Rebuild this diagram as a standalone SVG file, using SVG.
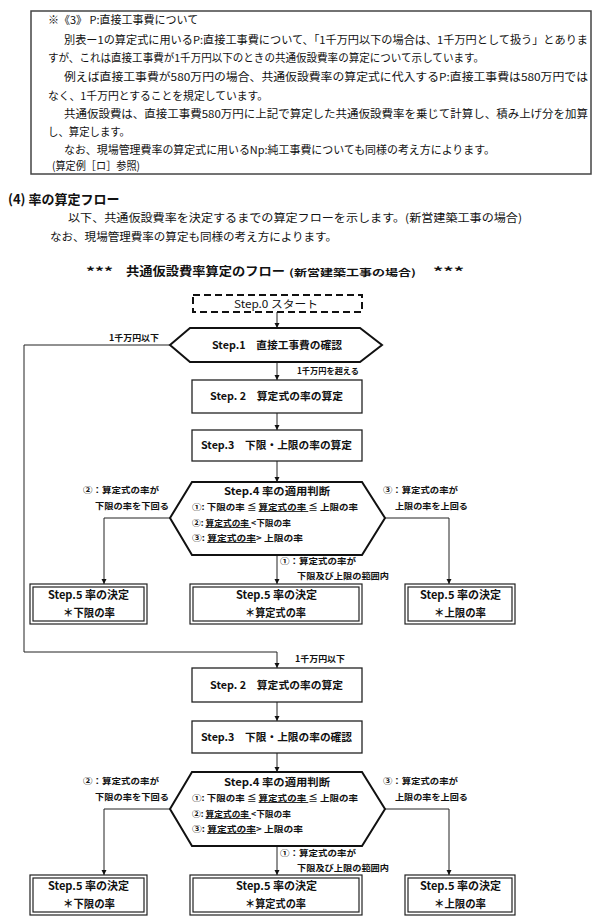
<svg xmlns="http://www.w3.org/2000/svg" width="600" height="923" viewBox="0 0 600 923">
<defs>
<marker id="ar" viewBox="0 0 10 10" refX="10" refY="5" markerWidth="5" markerHeight="7" orient="auto" markerUnits="userSpaceOnUse"><path d="M0,0 L10,5 L0,10 z" fill="#111"/></marker>
<style>
text{font-family:"Noto Sans CJK JP","Liberation Sans",sans-serif;fill:#111}
.p{font-size:11px}
.h{font-size:13px;font-weight:bold}
.b{font-size:10.5px;font-weight:bold}
.s{font-size:8.5px;font-weight:bold}
.m{font-size:11px;font-weight:bold}
.box{fill:#fff;stroke:#222;stroke-width:1.3}
.hex{fill:#fff;stroke:#111;stroke-width:2}
.dbl{fill:none;stroke:#222;stroke-width:1.2}
.ln{fill:none;stroke:#222;stroke-width:1}
</style>
</defs>
<rect width="600" height="923" fill="#fff"/>
<g id="note">
<rect x="31" y="11" width="560" height="163" fill="none" stroke="#444" stroke-width="1.5"/>
<text class="p" x="48" y="24" font-size="12">※《3》 P:直接工事費について</text>
<text class="p" x="64" y="44" textLength="524" lengthAdjust="spacingAndGlyphs">別表ー1の算定式に用いるP:直接工事費について、「1千万円以下の場合は、1千万円として扱う」とありま</text>
<text class="p" x="48" y="62" textLength="436" lengthAdjust="spacingAndGlyphs">すが、これは直接工事費が1千万円以下のときの共通仮設費率の算定について示しています。</text>
<text class="p" x="64" y="81" textLength="524" lengthAdjust="spacingAndGlyphs">例えば直接工事費が580万円の場合、共通仮設費率の算定式に代入するP:直接工事費は580万円では</text>
<text class="p" x="48" y="100" textLength="220" lengthAdjust="spacingAndGlyphs">なく、1千万円とすることを規定しています。</text>
<text class="p" x="64" y="118" textLength="524" lengthAdjust="spacingAndGlyphs">共通仮設費は、直接工事費580万円に上記で算定した共通仮設費率を乗じて計算し、積み上げ分を加算</text>
<text class="p" x="48" y="136" textLength="82" lengthAdjust="spacingAndGlyphs">し、算定します。</text>
<text class="p" x="64" y="154" textLength="431" lengthAdjust="spacingAndGlyphs">なお、現場管理費率の算定式に用いるNp:純工事費についても同様の考え方によります。</text>
<text class="p" x="52" y="170" textLength="88" lengthAdjust="spacingAndGlyphs">(算定例［ロ］参照)</text>
</g>
<g id="heading">
<text class="h" x="8" y="204">(4) 率の算定フロー</text>
<text class="p" x="68" y="222" textLength="454" lengthAdjust="spacingAndGlyphs">以下、共通仮設費率を決定するまでの算定フローを示します。(新営建築工事の場合)</text>
<text class="p" x="50" y="241" textLength="287" lengthAdjust="spacingAndGlyphs">なお、現場管理費率の算定も同様の考え方によります。</text>
<text x="86" y="276" font-size="12" font-weight="bold" textLength="27" lengthAdjust="spacingAndGlyphs">***</text>
<text x="126" y="276" font-size="12" font-weight="bold" textLength="159" lengthAdjust="spacingAndGlyphs">共通仮設費率算定のフロー</text>
<text x="289" y="276" font-size="9.5" font-weight="bold" textLength="127" lengthAdjust="spacingAndGlyphs">(新営建築工事の場合)</text>
<text x="433" y="276" font-size="12" font-weight="bold" textLength="31" lengthAdjust="spacingAndGlyphs">***</text>
</g>
<g id="connectors">
<line class="ln" x1="277" y1="312" x2="277" y2="328" marker-end="url(#ar)"/>
<line class="ln" x1="277" y1="362" x2="277" y2="380" marker-end="url(#ar)"/>
<line class="ln" x1="277" y1="413" x2="277" y2="430" marker-end="url(#ar)"/>
<line class="ln" x1="277" y1="461" x2="277" y2="482" marker-end="url(#ar)"/>
<polyline class="ln" points="170,345 24,345 24,652 277,652 277,668" marker-end="url(#ar)"/>
<polyline class="ln" points="170,518 104,518 104,584" marker-end="url(#ar)"/>
<polyline class="ln" points="385,518 449,518 449,584" marker-end="url(#ar)"/>
<line class="ln" x1="277" y1="555" x2="277" y2="584" marker-end="url(#ar)"/>
<line class="ln" x1="277" y1="702" x2="277" y2="721" marker-end="url(#ar)"/>
<line class="ln" x1="277" y1="753" x2="277" y2="772" marker-end="url(#ar)"/>
<polyline class="ln" points="170,809 104,809 104,875" marker-end="url(#ar)"/>
<polyline class="ln" points="385,809 449,809 449,875" marker-end="url(#ar)"/>
<line class="ln" x1="277" y1="846" x2="277" y2="875" marker-end="url(#ar)"/>
<text class="s" x="109" y="341" textLength="50" lengthAdjust="spacingAndGlyphs">1千万円以下</text>
<text class="s" x="297" y="374" textLength="62" lengthAdjust="spacingAndGlyphs">1千万円を超える</text>
<text class="s" x="83" y="493" textLength="76" lengthAdjust="spacingAndGlyphs">②：算定式の率が</text>
<text class="s" x="95" y="509" textLength="74" lengthAdjust="spacingAndGlyphs">下限の率を下回る</text>
<text class="s" x="383" y="493" textLength="75" lengthAdjust="spacingAndGlyphs">③：算定式の率が</text>
<text class="s" x="395" y="509" textLength="73" lengthAdjust="spacingAndGlyphs">上限の率を上回る</text>
<text class="s" x="280" y="564" textLength="76" lengthAdjust="spacingAndGlyphs">①：算定式の率が</text>
<text class="s" x="297" y="579" textLength="92" lengthAdjust="spacingAndGlyphs">下限及び上限の範囲内</text>
<text class="s" x="295" y="662" textLength="50" lengthAdjust="spacingAndGlyphs">1千万円以下</text>
<text class="s" x="83" y="784" textLength="76" lengthAdjust="spacingAndGlyphs">②：算定式の率が</text>
<text class="s" x="95" y="800" textLength="74" lengthAdjust="spacingAndGlyphs">下限の率を下回る</text>
<text class="s" x="383" y="784" textLength="75" lengthAdjust="spacingAndGlyphs">③：算定式の率が</text>
<text class="s" x="395" y="800" textLength="73" lengthAdjust="spacingAndGlyphs">上限の率を上回る</text>
<text class="s" x="280" y="856" textLength="76" lengthAdjust="spacingAndGlyphs">①：算定式の率が</text>
<text class="s" x="297" y="871" textLength="92" lengthAdjust="spacingAndGlyphs">下限及び上限の範囲内</text>
</g>
<g id="step0">
<rect x="193" y="295" width="169" height="17" fill="#fff" stroke="#111" stroke-width="2" stroke-dasharray="7,4"/>
<text x="234" y="307.5" font-size="10.5" textLength="84" lengthAdjust="spacingAndGlyphs">Step.0 スタート</text>
</g>
<g id="step1">
<polygon class="hex" points="170,345 190,328 360,328 382,345 360,362 190,362"/>
<text class="b" x="212" y="349" textLength="130" lengthAdjust="spacingAndGlyphs">Step.1　直接工事費の確認</text>
</g>
<g id="step2a">
<rect class="box" x="192" y="380" width="170" height="33"/>
<text class="b" x="210" y="400" textLength="133" lengthAdjust="spacingAndGlyphs">Step. 2　算定式の率の算定</text>
</g>
<g id="step3a">
<rect class="box" x="192" y="430" width="170" height="31"/>
<text class="b" x="201" y="449" textLength="151" lengthAdjust="spacingAndGlyphs">Step.3　下限・上限の率の算定</text>
</g>
<g id="step4a">
<polygon class="hex" points="170,518 192,482 362,482 385,518 362,555 192,555"/>
<text class="b" x="224" y="495" textLength="106" lengthAdjust="spacingAndGlyphs">Step.4 率の適用判断</text>
<text class="s" x="192" y="510" textLength="166" lengthAdjust="spacingAndGlyphs">①: 下限の率 ≦ <tspan text-decoration="underline">算定式の率 </tspan>≦ 上限の率</text>
<text class="s" x="192" y="526" textLength="99" lengthAdjust="spacingAndGlyphs">②: <tspan text-decoration="underline">算定式の率 </tspan>&lt;下限の率</text>
<text class="s" x="192" y="541" textLength="111" lengthAdjust="spacingAndGlyphs">③: <tspan text-decoration="underline">算定式の率</tspan>&gt; 上限の率</text>
</g>
<g id="step5a-low">
<rect class="dbl" x="30" y="584" width="117" height="40"/>
<rect class="dbl" x="33" y="587" width="111" height="34"/>
<text class="m" x="48" y="599" textLength="81" lengthAdjust="spacingAndGlyphs">Step.5 率の決定</text>
<text class="m" x="63" y="617" textLength="52" lengthAdjust="spacingAndGlyphs">＊下限の率</text>
</g>
<g id="step5a-mid">
<rect class="dbl" x="190" y="584" width="172" height="40"/>
<rect class="dbl" x="193" y="587" width="166" height="34"/>
<text class="m" x="236" y="599" textLength="81" lengthAdjust="spacingAndGlyphs">Step.5 率の決定</text>
<text class="m" x="245" y="617" textLength="61" lengthAdjust="spacingAndGlyphs">＊算定式の率</text>
</g>
<g id="step5a-high">
<rect class="dbl" x="405" y="584" width="110" height="40"/>
<rect class="dbl" x="408" y="587" width="104" height="34"/>
<text class="m" x="420" y="599" textLength="81" lengthAdjust="spacingAndGlyphs">Step.5 率の決定</text>
<text class="m" x="434" y="617" textLength="52" lengthAdjust="spacingAndGlyphs">＊上限の率</text>
</g>
<g id="step2b">
<rect class="box" x="192" y="668" width="170" height="34"/>
<text class="b" x="210" y="689" textLength="133" lengthAdjust="spacingAndGlyphs">Step. 2　算定式の率の算定</text>
</g>
<g id="step3b">
<rect class="box" x="192" y="721" width="170" height="32"/>
<text class="b" x="201" y="741" textLength="151" lengthAdjust="spacingAndGlyphs">Step.3　下限・上限の率の確認</text>
</g>
<g id="step4b">
<polygon class="hex" points="170,809 192,772 362,772 385,809 362,846 192,846"/>
<text class="b" x="224" y="786" textLength="106" lengthAdjust="spacingAndGlyphs">Step.4 率の適用判断</text>
<text class="s" x="192" y="801" textLength="166" lengthAdjust="spacingAndGlyphs">①: 下限の率 ≦ <tspan text-decoration="underline">算定式の率 </tspan>≦ 上限の率</text>
<text class="s" x="192" y="817" textLength="99" lengthAdjust="spacingAndGlyphs">②: <tspan text-decoration="underline">算定式の率 </tspan>&lt;下限の率</text>
<text class="s" x="192" y="832" textLength="111" lengthAdjust="spacingAndGlyphs">③: <tspan text-decoration="underline">算定式の率</tspan>&gt; 上限の率</text>
</g>
<g id="step5b-low">
<rect class="dbl" x="30" y="875" width="117" height="40"/>
<rect class="dbl" x="33" y="878" width="111" height="34"/>
<text class="m" x="48" y="890" textLength="81" lengthAdjust="spacingAndGlyphs">Step.5 率の決定</text>
<text class="m" x="63" y="908" textLength="52" lengthAdjust="spacingAndGlyphs">＊下限の率</text>
</g>
<g id="step5b-mid">
<rect class="dbl" x="190" y="875" width="172" height="40"/>
<rect class="dbl" x="193" y="878" width="166" height="34"/>
<text class="m" x="236" y="890" textLength="81" lengthAdjust="spacingAndGlyphs">Step.5 率の決定</text>
<text class="m" x="245" y="908" textLength="61" lengthAdjust="spacingAndGlyphs">＊算定式の率</text>
</g>
<g id="step5b-high">
<rect class="dbl" x="405" y="875" width="110" height="40"/>
<rect class="dbl" x="408" y="878" width="104" height="34"/>
<text class="m" x="420" y="890" textLength="81" lengthAdjust="spacingAndGlyphs">Step.5 率の決定</text>
<text class="m" x="434" y="908" textLength="52" lengthAdjust="spacingAndGlyphs">＊上限の率</text>
</g>
</svg>
